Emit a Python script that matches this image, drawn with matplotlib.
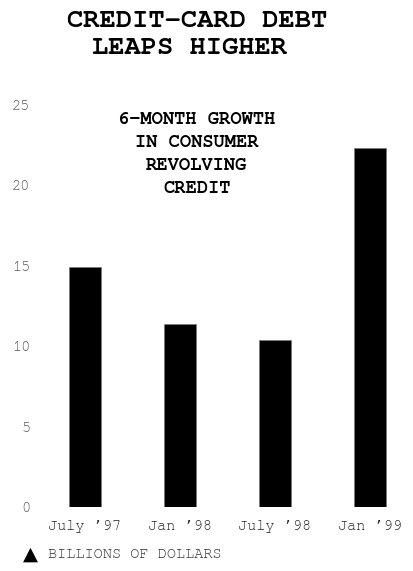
import matplotlib
matplotlib.use("Agg")
import matplotlib.pyplot as plt
from matplotlib import font_manager

# six-month growth in consumer revolving credit, billions of dollars
periods = ["July \u201997", "Jan \u201998", "July \u201998", "Jan \u201999"]
growth = [14.9, 11.4, 10.4, 22.3]
y_ticks = [0, 5, 10, 15, 20, 25]

# prefer a Courier-style face if one happens to be installed
installed = {f.name for f in font_manager.fontManager.ttflist}
MONO = [f for f in ["Courier New", "Nimbus Mono PS", "FreeMono", "Courier"] if f in installed]
MONO += ["Liberation Mono", "DejaVu Sans"]

fig = plt.figure(figsize=(4.13, 5.71), dpi=100)
ax = fig.add_axes([40 / 413, 1 - 507 / 571, 370 / 413, (507 - 97) / 571])

ax.bar(range(len(growth)), growth, width=0.342, color="black",
       edgecolor="#777777", linewidth=0.5)

ax.set_xlim(-0.474, 3.421)
ax.set_ylim(0, 25.5)
for s in ax.spines.values():
    s.set_visible(False)

ax.set_yticks(y_ticks)
ax.set_yticklabels([str(t) for t in y_ticks], family=MONO, fontsize=11, color="#555555")
ax.set_xticks(range(len(periods)))
ax.set_xticklabels(periods, family=MONO, fontsize=11, color="#222222")
ax.tick_params(axis="y", length=0, pad=7)
ax.tick_params(axis="x", length=0, pad=9.5)

# title, two lines, slightly offset like the original
fig.text(197 / 413, 1 - 21 / 571, "CREDIT-CARD DEBT", family=MONO, fontweight="bold",
         fontsize=19.5, ha="center", va="center")
fig.text(190 / 413, 1 - 47.5 / 571, "LEAPS HIGHER", family=MONO, fontweight="bold",
         fontsize=19.5, ha="center", va="center")

# inner label
inner = ["6-MONTH GROWTH", "IN CONSUMER", "REVOLVING", "CREDIT"]
for i, line in enumerate(inner):
    fig.text(197 / 413, 1 - (120 + 23 * i) / 571, line, family=MONO, fontweight="bold",
             fontsize=13.5, ha="center", va="center")

# footer
fig.text(30 / 413, 1 - 554 / 571, "\u25B2", family=["DejaVu Sans"], fontsize=14,
         ha="center", va="center", color="black")
fig.text(48 / 413, 1 - 554 / 571, "BILLIONS OF DOLLARS", family=MONO, fontsize=11,
         ha="left", va="center", color="#333333")

fig.savefig("out.png", dpi=100)
plt.close(fig)
